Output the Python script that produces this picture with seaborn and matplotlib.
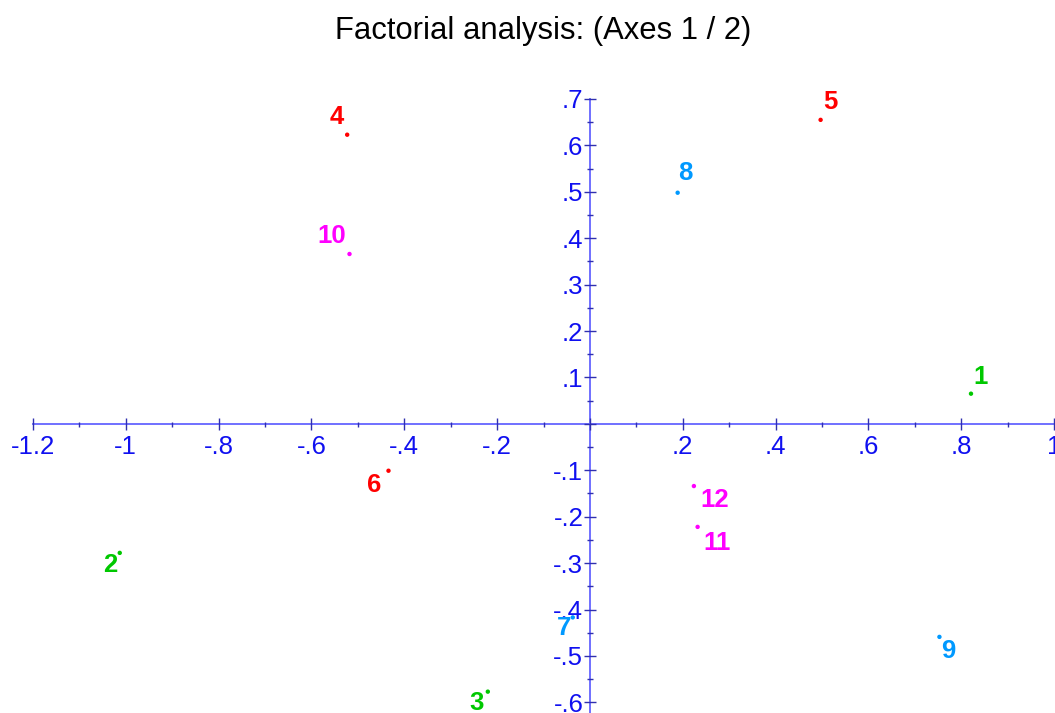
import matplotlib as mpl
mpl.use('Agg')
import matplotlib.pyplot as plt
from matplotlib.ticker import MultipleLocator, FuncFormatter
import pandas as pd
import seaborn as sns

# observations on factorial axes 1 and 2
labels = ['1', '2', '3', '4', '5', '6', '7', '8', '9', '10', '11', '12']
axis1 = [0.821, -1.013, -0.220, -0.523, 0.497, -0.434, -0.037, 0.189, 0.753, -0.518, 0.232, 0.224]
axis2 = [0.065, -0.278, -0.577, 0.623, 0.655, -0.101, -0.417, 0.498, -0.459, 0.366, -0.222, -0.134]
groups = ['g1', 'g1', 'g1', 'g2', 'g2', 'g2', 'g3', 'g3', 'g3', 'g4', 'g4', 'g4']

palette = {'g1': '#00C800', 'g2': '#FF0000', 'g3': '#0099FF', 'g4': '#FF00FF'}
# label offsets from the dot, in pixels (dx right, dy up)
label_offsets = [(10, 17), (-9, -12), (-11, -11), (-10, 18), (10, 18), (-14, -14),
                 (-9, -11), (8, 20), (9, -14), (-18, 18), (19, -16), (21, -14)]

df = pd.DataFrame({'label': labels, 'x': axis1, 'y': axis2, 'group': groups})

sns.set_style('white')
plt.rcParams['font.family'] = ['Liberation Sans', 'DejaVu Sans']

W, H = 1055, 713
fig = plt.figure(figsize=(W / 100, H / 100), dpi=100)
ax = fig.add_axes([0, 0, 1, 1 - 76 / H])

sns.scatterplot(data=df, x='x', y='y', hue='group', palette=palette,
                s=10, linewidth=0, legend=False, ax=ax)

for _, row in df.iterrows():
    dx, dy = label_offsets[int(row['label']) - 1]
    ax.annotate(row['label'], (row['x'], row['y']), xytext=(dx, dy),
                textcoords='offset pixels', ha='center', va='center',
                fontsize=18.5, fontweight='bold', color=palette[row['group']])

ax.set_xlim(-1.271, 1.002)
ax.set_ylim(-0.623, 0.7495)
ax.set_xlabel('')
ax.set_ylabel('')

spine_col = '#7070FF'
tick_col = '#3030B0'
label_col = '#1010F0'

for side in ['top', 'right']:
    ax.spines[side].set_visible(False)
ax.spines['left'].set_position(('data', 0))
ax.spines['bottom'].set_position(('data', 0))
ax.spines['left'].set_bounds(-0.623, 0.7)
ax.spines['bottom'].set_bounds(-1.2, 1.0)
for side in ['left', 'bottom']:
    ax.spines[side].set_color(spine_col)
    ax.spines[side].set_linewidth(1.4)
    ax.spines[side].set_zorder(0)


def fmt(v, pos):
    s = f"{v:.1f}".rstrip('0').rstrip('.')
    if s in ('0', '-0'):
        return ''
    if s.startswith('0.'):
        s = s[1:]
    elif s.startswith('-0.'):
        s = '-' + s[2:]
    return s


ax.xaxis.set_major_locator(MultipleLocator(0.2))
ax.xaxis.set_minor_locator(MultipleLocator(0.1))
ax.yaxis.set_major_locator(MultipleLocator(0.1))
ax.yaxis.set_minor_locator(MultipleLocator(0.05))
ax.xaxis.set_major_formatter(FuncFormatter(fmt))
ax.yaxis.set_major_formatter(FuncFormatter(fmt))

ax.tick_params(axis='x', which='both', bottom=True, top=False)
ax.tick_params(axis='y', which='both', left=True, right=False)
ax.tick_params(axis='x', which='major', direction='inout', length=8, width=1,
               color=tick_col, labelcolor=label_col, labelsize=18.5, pad=4)
ax.tick_params(axis='x', which='minor', direction='inout', length=3.6, width=1,
               color=tick_col)
ax.tick_params(axis='y', which='major', direction='inout', length=8.6, width=1,
               color=tick_col, labelcolor=label_col, labelsize=18.5, pad=0.5)
ax.tick_params(axis='y', which='minor', direction='inout', length=4.3, width=1,
               color=tick_col)

ax.patch.set_alpha(0)
fig.text(543 / W, 1 - 31 / H, 'Factorial analysis: (Axes 1 / 2)',
         ha='center', va='center', fontsize=22.3, color='black')

fig.savefig('out.png', dpi=100)
